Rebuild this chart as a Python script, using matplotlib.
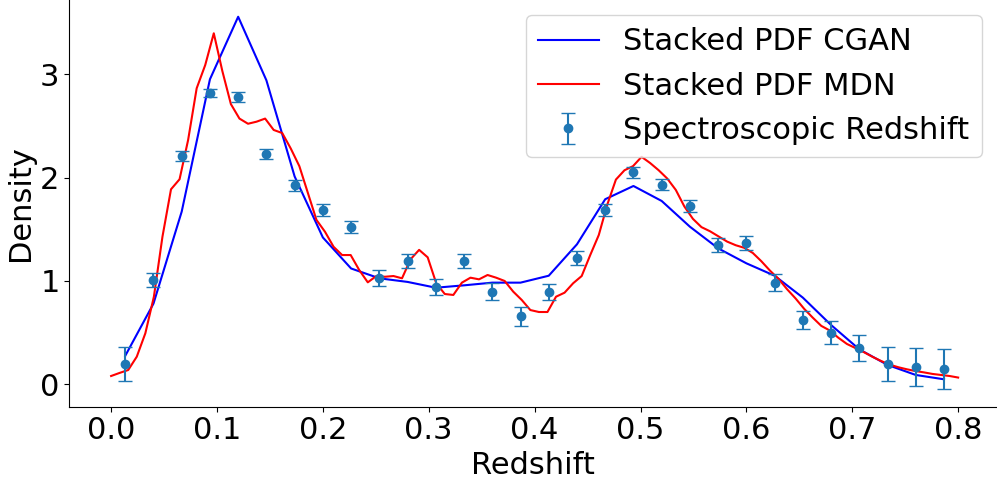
import numpy as np
import matplotlib
matplotlib.use("Agg")
import matplotlib.pyplot as plt

# spectroscopic histogram: 30 bins over 0..0.8
bin_edges = np.linspace(0.0, 0.8, 31)
spec_density = [0.196, 1.009, 2.205, 2.82, 2.78, 2.23, 1.927, 1.686, 1.524, 1.025,
                1.192, 0.944, 1.192, 0.896, 0.658, 0.89, 1.219, 1.686, 2.05, 1.93,
                1.72, 1.347, 1.364, 0.983, 0.622, 0.5, 0.354, 0.193, 0.167, 0.145]
spec_err = [0.166, 0.068, 0.05, 0.04, 0.045, 0.05, 0.053, 0.06, 0.056, 0.076,
            0.069, 0.076, 0.071, 0.08, 0.094, 0.079, 0.068, 0.061, 0.052, 0.055,
            0.058, 0.068, 0.068, 0.079, 0.09, 0.108, 0.127, 0.166, 0.18, 0.195]

# stacked PDF from the CGAN, evaluated at the bin centres
cgan_pdf = [0.275, 0.78, 1.67, 2.95, 3.555, 2.94, 2.01, 1.42, 1.12, 1.025,
            0.99, 0.934, 0.957, 0.983, 0.983, 1.05, 1.354, 1.79, 1.918, 1.773,
            1.524, 1.315, 1.17, 1.05, 0.838, 0.573, 0.338, 0.187, 0.09, 0.048]

# stacked PDF from the MDN on a 100 point grid
mdn_z = np.linspace(0.0, 0.8, 100)
mdn_pdf = [0.08, 0.11, 0.138, 0.267, 0.493, 0.847, 1.427, 1.886, 1.983, 2.363,
           2.863, 3.088, 3.395, 3.03, 2.71, 2.57, 2.52, 2.54, 2.57, 2.46,
           2.43, 2.28, 2.11, 1.85, 1.59, 1.475, 1.33, 1.25, 1.25, 1.105,
           0.986, 1.047, 1.04, 1.047, 1.025, 1.209, 1.3, 1.228, 0.977, 0.873,
           0.864, 0.983, 1.031, 1.015, 1.057, 1.031, 0.999, 0.896, 0.815, 0.718,
           0.699, 0.699, 0.847, 0.886, 0.977, 1.047, 1.25, 1.444, 1.74, 1.98,
           2.07, 2.11, 2.2, 2.14, 2.07, 1.99, 1.88, 1.72, 1.6, 1.52,
           1.48, 1.43, 1.38, 1.345, 1.32, 1.27, 1.19, 1.1, 1.02, 0.92,
           0.83, 0.73, 0.645, 0.565, 0.52, 0.45, 0.39, 0.35, 0.31, 0.265,
           0.225, 0.19, 0.165, 0.145, 0.128, 0.115, 0.1, 0.09, 0.08, 0.065]

centers = 0.5 * (bin_edges[:-1] + bin_edges[1:])

fig = plt.figure(figsize=(9.97, 4.8), dpi=100)
ax = fig.add_axes([0.0695, 0.1527, 0.9305, 0.8473])

ax.plot(centers, cgan_pdf, color='blue', label='Stacked PDF CGAN')
ax.plot(mdn_z, mdn_pdf, color='red', label='Stacked PDF MDN')
ax.errorbar(centers, spec_density, yerr=spec_err, fmt='o', color='tab:blue',
            capsize=5, label='Spectroscopic Redshift')

ax.set_xlim(-0.0395, 0.8367)
ax.set_ylim(-0.217, 3.717)
ax.set_xticks(np.arange(0, 0.81, 0.1))
ax.set_yticks([0, 1, 2, 3])
ax.tick_params(axis='both', labelsize=22)
ax.set_xlabel('Redshift', fontsize=22)
ax.set_ylabel('Density', fontsize=22)
ax.spines['top'].set_visible(False)
ax.spines['right'].set_visible(False)
ax.legend(loc='upper right', fontsize=22)

plt.savefig('out.png', dpi=100)
plt.close()
